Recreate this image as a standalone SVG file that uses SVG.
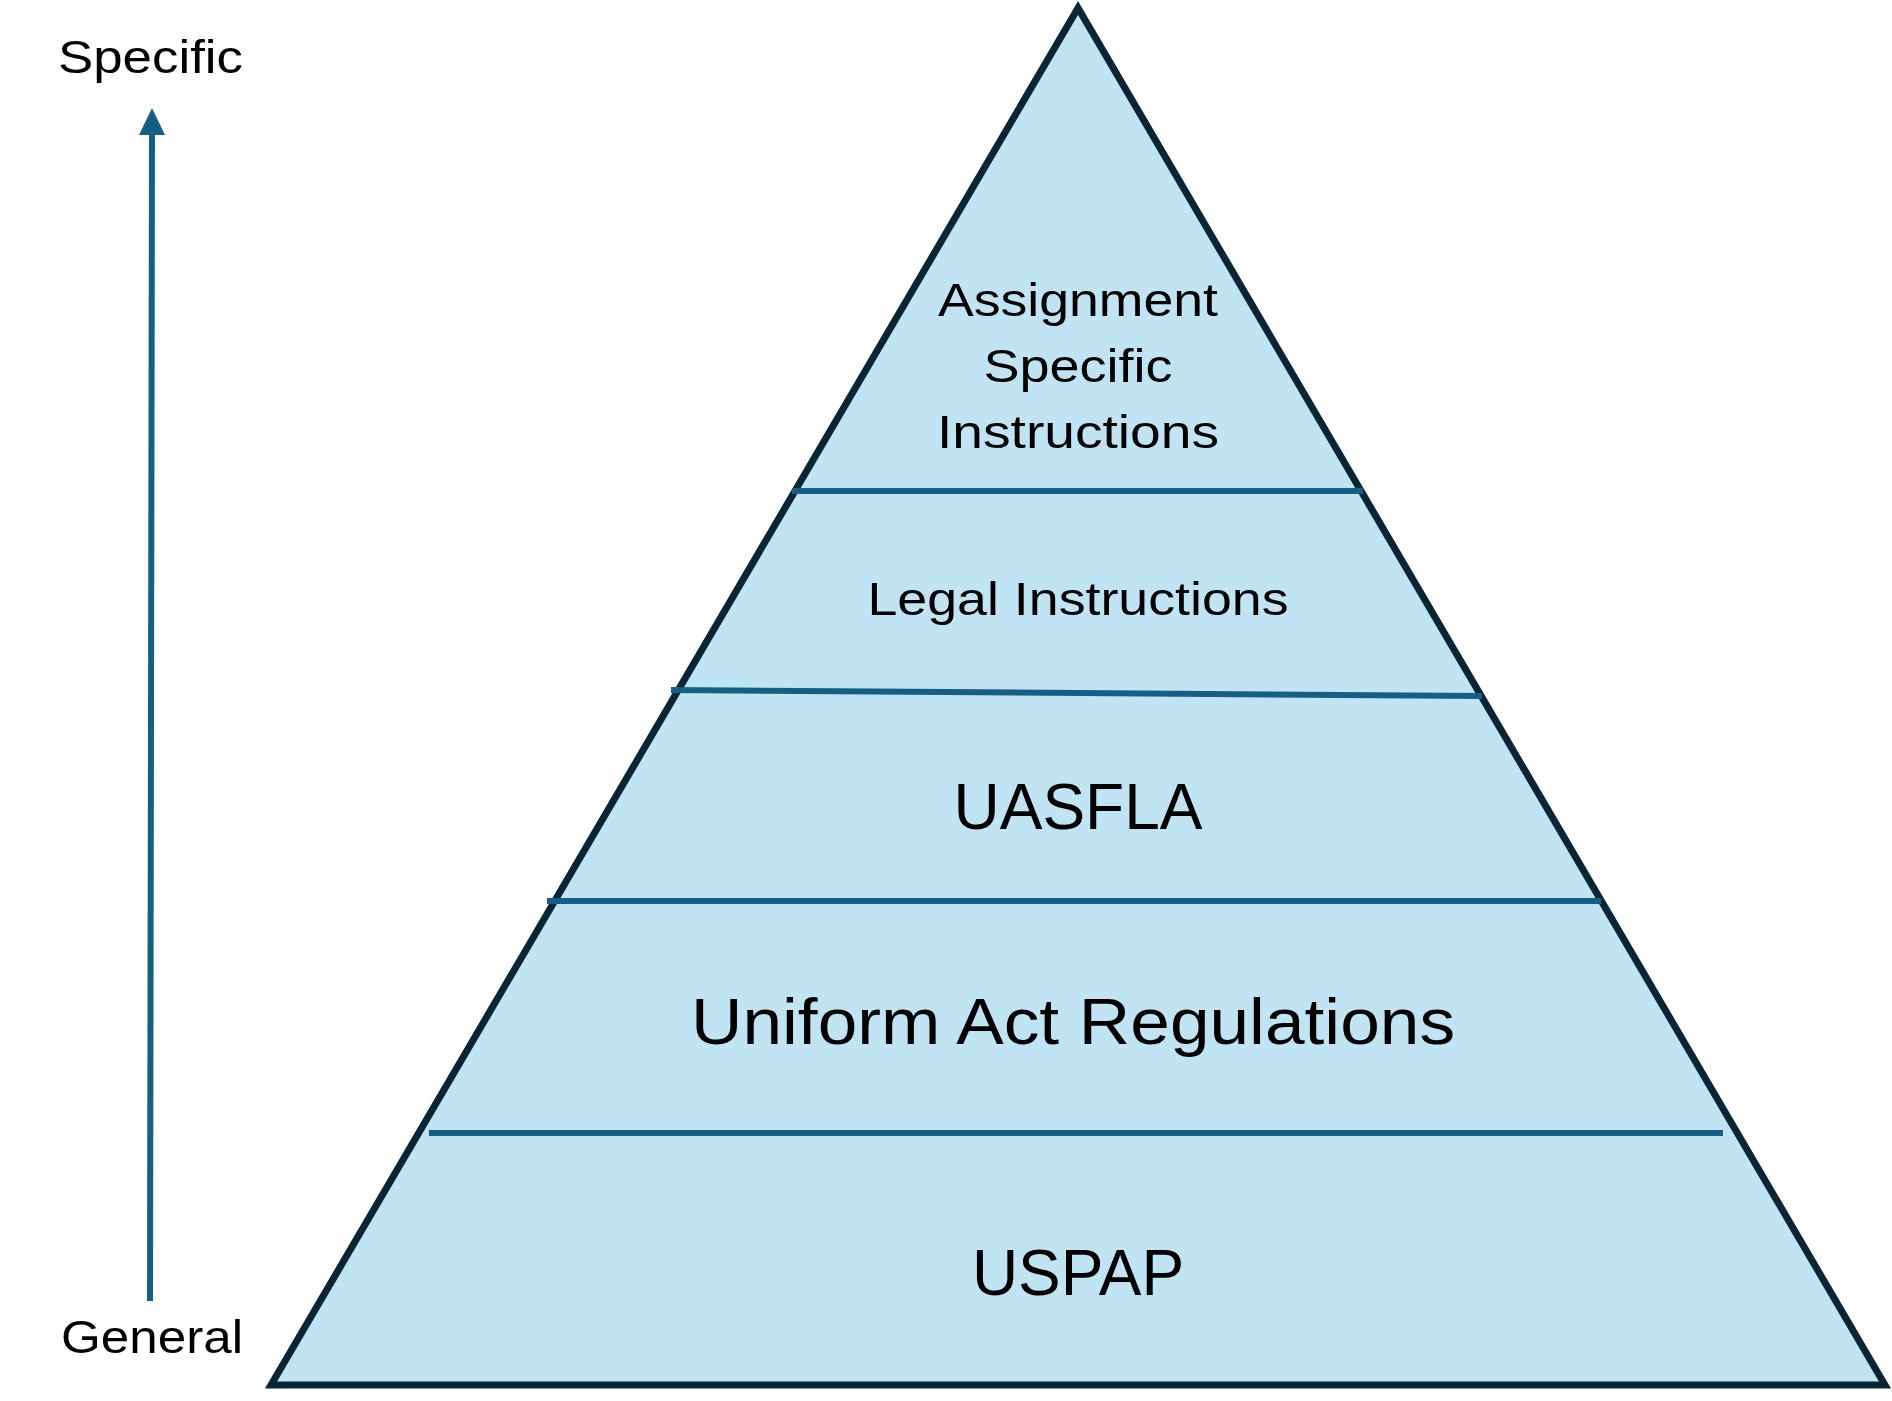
<svg xmlns="http://www.w3.org/2000/svg" width="1892" height="1401" viewBox="0 0 1892 1401">
<style>
.lbl{font-family:"Liberation Sans",Arial,sans-serif;fill:#000;}
.tier{font-family:"Liberation Sans",Arial,sans-serif;fill:#000;text-anchor:middle;}
.div{stroke:#156082;stroke-width:6;fill:none;}
</style>
<rect width="1892" height="1401" fill="#fff"/>
<g id="pyramid">
<polygon points="1078,8 271,1385 1885,1385" fill="#C1E4F5" stroke="#0A2636" stroke-width="7" stroke-linejoin="miter"/>
</g>
<g id="connectors">
<line class="div" x1="792" y1="491" x2="1363" y2="491"/>
<line class="div" x1="671" y1="690" x2="1482" y2="696"/>
<line class="div" x1="547" y1="901" x2="1601" y2="901"/>
<line class="div" x1="429" y1="1133" x2="1723" y2="1133"/>
<line x1="150" y1="1301" x2="152" y2="132" stroke="#156082" stroke-width="6"/>
<polygon points="152,108 139,135 165,135" fill="#156082"/>
</g>
<g id="axis-specific"><text class="lbl" x="58" y="73" font-size="46" textLength="185" lengthAdjust="spacingAndGlyphs">Specific</text></g>
<g id="axis-general"><text class="lbl" x="61" y="1353" font-size="46" textLength="182" lengthAdjust="spacingAndGlyphs">General</text></g>
<g id="tier-assignment">
<text class="tier" x="1078" y="316" font-size="46" textLength="280" lengthAdjust="spacingAndGlyphs">Assignment</text>
<text class="tier" x="1078" y="382" font-size="46" textLength="189" lengthAdjust="spacingAndGlyphs">Specific</text>
<text class="tier" x="1078" y="448" font-size="46" textLength="282" lengthAdjust="spacingAndGlyphs">Instructions</text>
</g>
<g id="tier-legal"><text class="tier" x="1078" y="615" font-size="46" textLength="421" lengthAdjust="spacingAndGlyphs">Legal Instructions</text></g>
<g id="tier-uasfla"><text class="tier" x="1078" y="829" font-size="64">UASFLA</text></g>
<g id="tier-uniform"><text class="tier" x="1073" y="1044" font-size="65" textLength="764" lengthAdjust="spacingAndGlyphs">Uniform Act Regulations</text></g>
<g id="tier-uspap"><text class="tier" x="1078" y="1295" font-size="64">USPAP</text></g>
</svg>
